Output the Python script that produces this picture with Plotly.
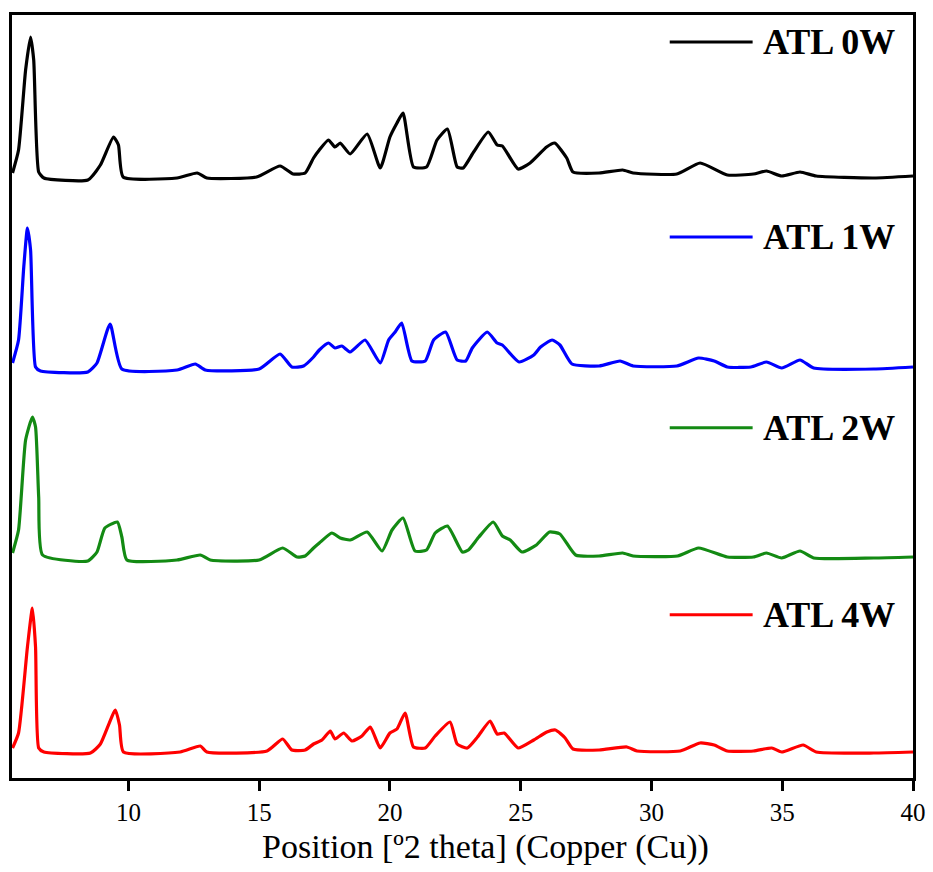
import plotly.graph_objects as go

# Powder XRD patterns of ATL stored for 0, 1, 2 and 4 weeks (2-theta in degrees, intensity in a.u.)
two_theta_0w = [5.57, 5.8, 6.07, 6.26, 6.38, 6.57, 6.77, 8.45, 8.93, 9.43, 9.62, 9.8, 11.86, 12.63, 13.0,
                14.9, 15.8, 16.3, 16.76, 17.08, 17.3, 17.65, 17.9, 18.1, 18.48, 19.13, 19.63, 20.0, 20.27,
                20.5, 20.9, 21.4, 21.8, 22.2, 22.57, 22.8, 23.2, 23.76, 24.1, 24.3, 24.9, 25.36, 25.99,
                26.3, 26.76, 27.0, 28.0, 28.9, 29.3, 30.97, 31.86, 32.9, 33.9, 34.4, 34.98, 35.68, 36.3,
                38.5, 40.0]
intensity_0w = [15, 38, 118, 151, 128, 16, 10, 8, 23, 51, 43, 11, 10, 15, 10,
                11, 22, 14, 15, 30, 38, 48, 41, 45, 34, 54, 20, 51, 65,
                75, 21, 21, 48, 59, 21, 20, 36, 56, 43, 42, 19, 25, 41,
                45, 30, 16, 15, 18, 15, 14, 25, 13, 14, 17, 12, 16, 12,
                10, 12]

two_theta_1w = [5.57, 5.8, 6.0, 6.14, 6.26, 6.45, 6.64, 8.45, 8.8, 9.3, 9.75, 11.86, 12.56, 12.94, 15.0,
                15.8, 16.25, 16.7, 17.08, 17.3, 17.65, 17.9, 18.16, 18.48, 19.05, 19.63, 19.95, 20.2,
                20.45, 20.84, 21.35, 21.67, 22.13, 22.57, 22.9, 23.15, 23.72, 24.1, 24.3, 24.94, 25.5,
                25.76, 26.2, 26.5, 26.96, 28.0, 28.8, 29.3, 30.97, 31.8, 32.4, 32.9, 33.8, 34.4, 34.98,
                35.68, 36.2, 38.5, 40.0]
intensity_1w = [15, 38, 111, 150, 128, 11, 7, 6, 15, 54, 9, 8, 14, 8, 9,
                24, 11, 12, 21, 28, 35, 30, 32, 26, 38, 15, 38, 46,
                55, 17, 17, 38, 46, 18, 17, 30, 46, 35, 33, 16, 23,
                31, 38, 33, 14, 12, 17, 12, 12, 20, 17, 11, 11, 16, 10,
                18, 10, 9, 11]

two_theta_2w = [5.57, 5.8, 6.07, 6.33, 6.45, 6.57, 6.72, 8.45, 8.8, 9.1, 9.58, 9.75, 9.94, 11.86, 12.75,
                13.13, 15.0, 15.9, 16.45, 16.76, 17.08, 17.3, 17.78, 18.1, 18.48, 19.13, 19.7, 20.08,
                20.5, 20.96, 21.4, 21.73, 22.2, 22.77, 23.0, 23.4, 23.95, 24.3, 24.6, 25.05, 25.6, 26.1,
                26.5, 27.1, 28.0, 28.9, 29.3, 31.0, 31.8, 32.9, 33.9, 34.4, 34.98, 35.68, 36.2, 38.5, 40.0]
intensity_2w = [15, 38, 128, 151, 141, 71, 13, 7, 16, 40, 46, 31, 8, 8, 13,
                8, 8, 20, 11, 12, 20, 25, 35, 30, 28, 36, 17, 38,
                50, 17, 18, 35, 42, 16, 18, 31, 46, 32, 28, 16, 23, 36,
                34, 13, 12, 15, 12, 12, 20, 11, 11, 15, 10, 17, 10, 10, 11]

two_theta_4w = [5.57, 5.8, 6.14, 6.33, 6.45, 6.57, 6.77, 8.55, 8.93, 9.5, 9.66, 9.81, 11.98, 12.75, 13.0,
                15.3, 15.9, 16.25, 16.76, 17.08, 17.4, 17.72, 17.9, 18.23, 18.55, 18.93, 19.25, 19.63,
                20.0, 20.27, 20.58, 20.9, 21.35, 21.73, 22.3, 22.57, 22.96, 23.35, 23.83, 24.1, 24.37,
                24.9, 25.5, 26.0, 26.33, 26.7, 27.0, 28.0, 29.06, 29.45, 31.1, 31.86, 32.4, 32.9, 33.9,
                34.6, 34.98, 35.8, 36.3, 38.5, 40.0]
intensity_4w = [10, 25, 111, 150, 111, 10, 6, 5, 14, 48, 33, 6, 6, 12, 6,
                7, 19, 8, 8, 14, 18, 27, 19, 25, 17, 22, 31, 10,
                25, 29, 45, 11, 10, 22, 36, 14, 10, 21, 37, 24, 25,
                10, 18, 26, 28, 20, 9, 8, 11, 7, 7, 15, 13, 7, 7,
                10, 6, 13, 6, 5, 6]

sample_names = ["ATL 0W", "ATL 1W", "ATL 2W", "ATL 4W"]
sample_colors = ["#000000", "#0000FF", "#138A13", "#FF0000"]
stack_offsets = [590, 400, 210, 20]
x_title = "Position [º2 theta] (Copper (Cu))"

series = [
    (two_theta_0w, intensity_0w),
    (two_theta_1w, intensity_1w),
    (two_theta_2w, intensity_2w),
    (two_theta_4w, intensity_4w),
]

fig = go.Figure()
for (tt, inten), name, color, off in zip(series, sample_names, sample_colors, stack_offsets):
    fig.add_trace(go.Scatter(
        x=tt, y=[v + off for v in inten], mode="lines", name=name,
        line=dict(color=color, width=3.2, shape="spline", smoothing=0.5),
        showlegend=False,
    ))

# Label each pattern with a short line key and its name at the right of its band
legend_rows = [0.9645, 0.709, 0.459, 0.214]
for name, color, yp in zip(sample_names, sample_colors, legend_rows):
    fig.add_shape(type="line", xref="paper", yref="paper",
                  x0=0.730, x1=0.822, y0=yp, y1=yp,
                  line=dict(color=color, width=3))
    fig.add_annotation(xref="paper", yref="paper", x=0.831, y=yp,
                       text=f"<b>{name}</b>", showarrow=False,
                       xanchor="left", yanchor="middle",
                       font=dict(family="Liberation Serif", size=36, color="#000000"))

# Axis title, set slightly right of the plot centre
fig.add_annotation(xref="paper", yref="paper", x=0.525, y=-0.090,
                   text=x_title, showarrow=False,
                   xanchor="center", yanchor="middle",
                   font=dict(family="Liberation Serif", size=34, color="#000000"))

fig.update_layout(
    width=933, height=872,
    margin=dict(l=12, r=20, t=15, b=94),
    paper_bgcolor="white", plot_bgcolor="white",
    font=dict(family="Liberation Serif", color="#000000"),
)
fig.update_xaxes(
    range=[5.55, 40], tickmode="array", tickvals=[10, 15, 20, 25, 30, 35, 40],
    ticks="outside", ticklen=10, tickwidth=2.5, tickcolor="#000000",
    showline=True, linewidth=2.5, linecolor="#000000", mirror=True,
    showgrid=False, zeroline=False, automargin=False,
    tickfont=dict(family="Liberation Serif", size=25, color="#000000"),
)
fig.update_yaxes(
    range=[0, 763], showticklabels=False, ticks="",
    showline=True, linewidth=2.5, linecolor="#000000", mirror=True,
    showgrid=False, zeroline=False, automargin=False,
)

fig.write_html("out.html")
